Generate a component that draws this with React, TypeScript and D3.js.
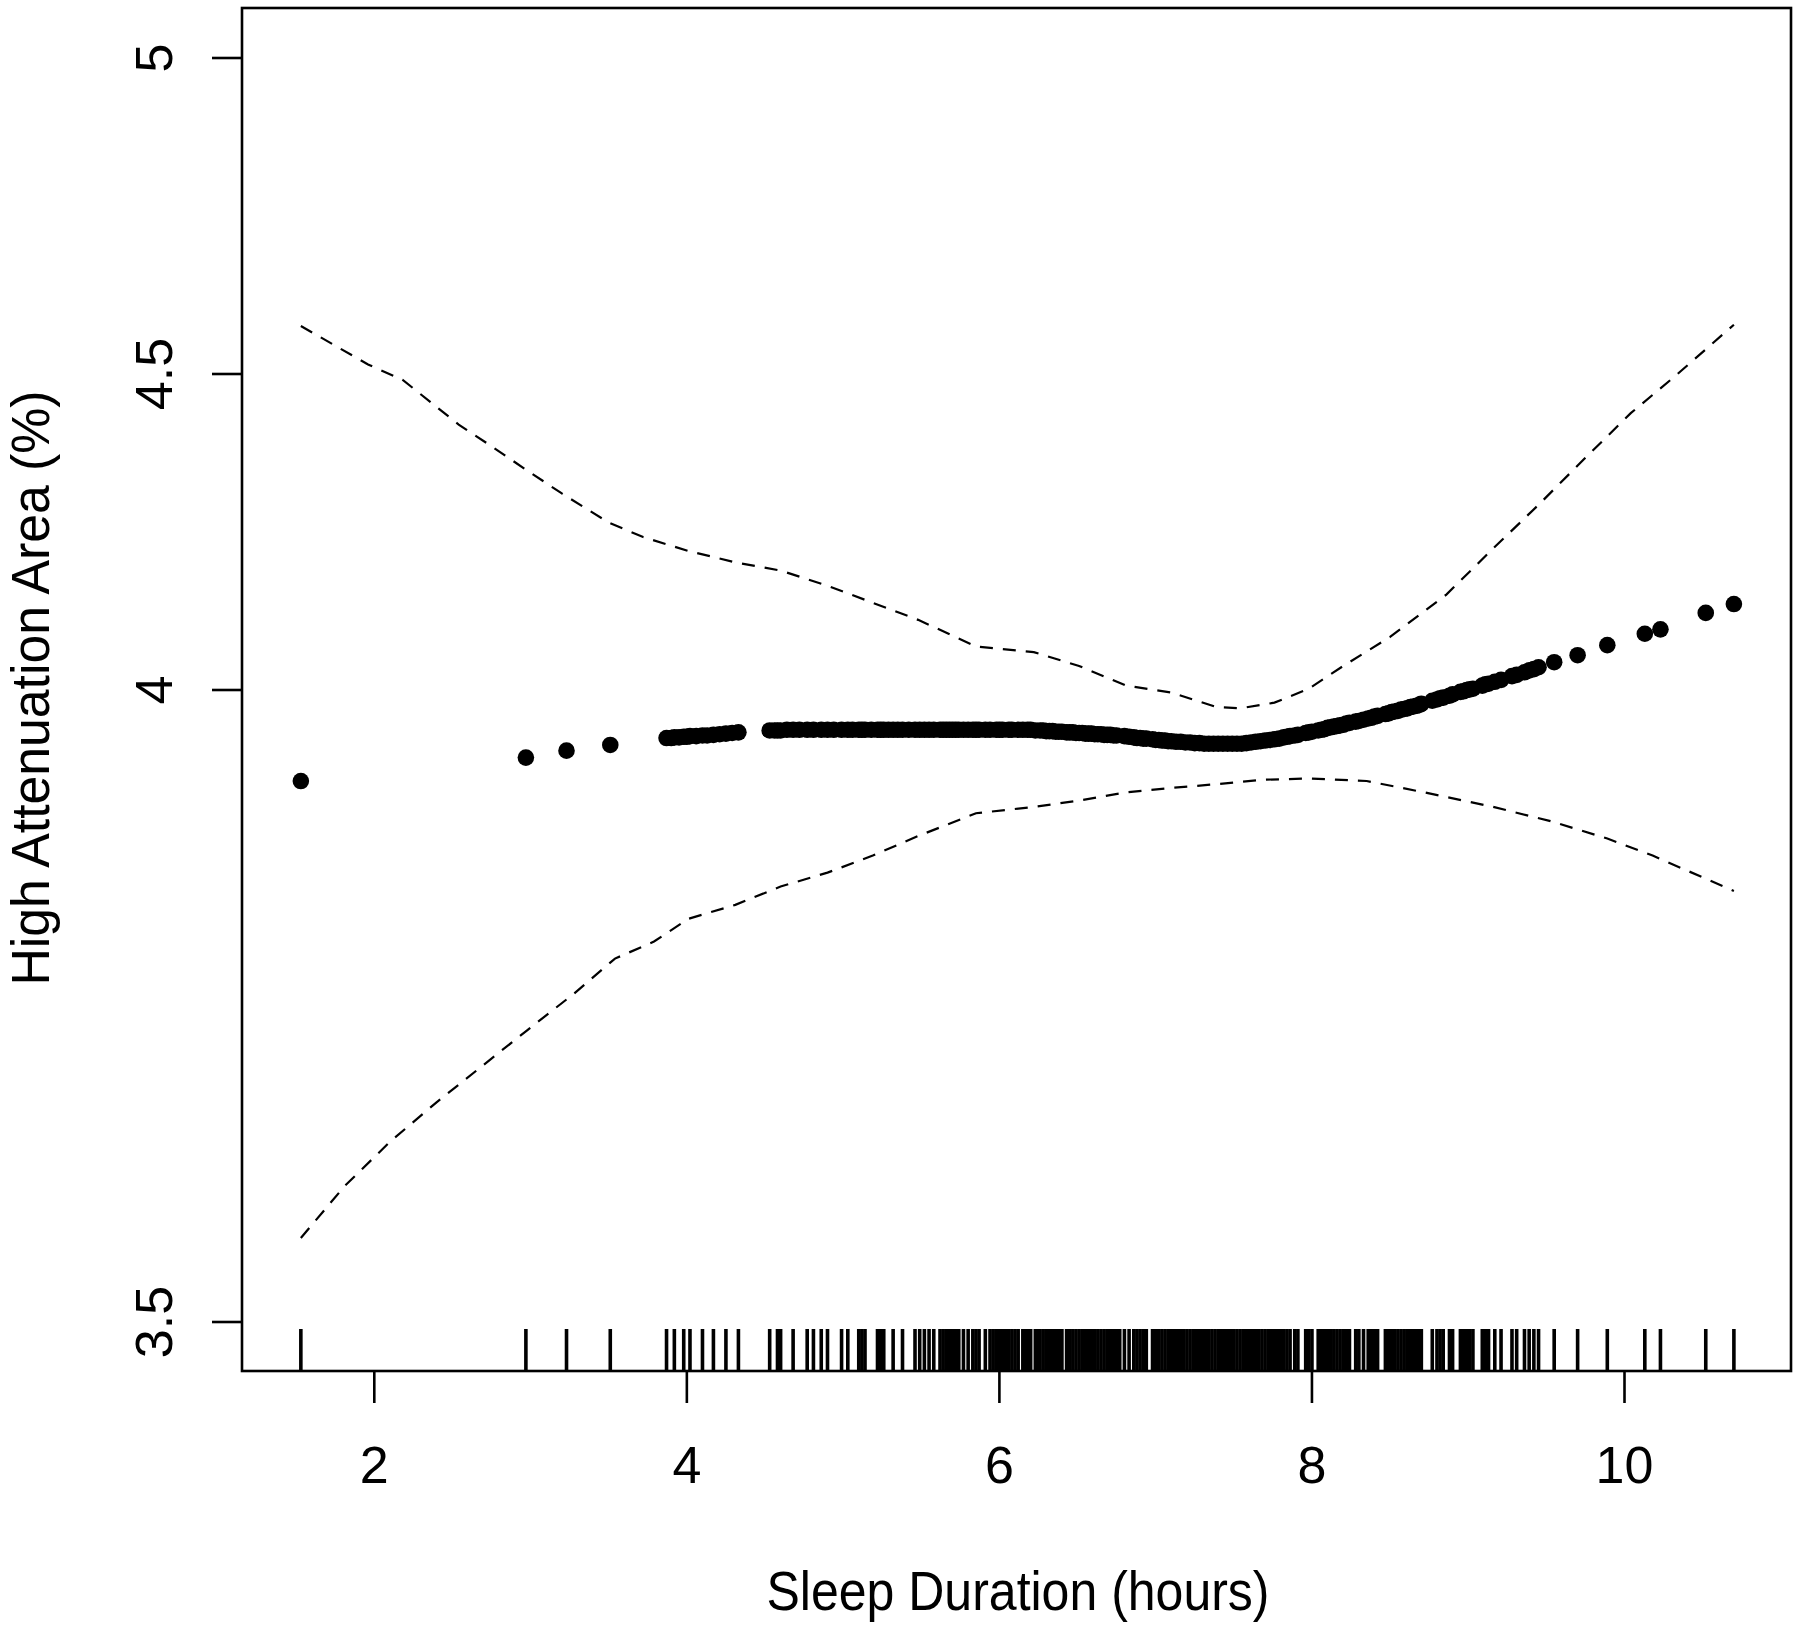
import React from 'react'
import * as d3 from 'd3'

const W = 1800
const H = 1626

// axis ticks (the bottom y tick sits at 3.0 but is printed as "3.5" in the source figure)
const xTicks = [2, 4, 6, 8, 10]
const yTicks = [3, 4, 4.5, 5]
const yTickLabels = ['3.5', '4', '4.5', '5']

// observed sleep durations (rug)
const rugHours = [
  1.53, 2.97, 3.23, 3.51,
  3.87, 3.92, 3.98, 4.02, 4.1, 4.17, 4.25, 4.33,
  4.53, 4.58, 4.6, 4.68, 4.77, 4.81, 4.86, 4.9, 4.99, 5.03,
  5.1, 5.12, 5.14, 5.22, 5.24, 5.26,
  5.32, 5.38, 5.46, 5.49, 5.52, 5.55, 5.58,
  5.62, 5.64, 5.66, 5.68, 5.7, 5.72, 5.74, 5.77, 5.8,
  5.83, 5.85, 5.87, 5.91, 5.94, 5.96, 5.98, 6.0, 6.02, 6.04,
  6.06, 6.08, 6.1, 6.12, 6.15, 6.16, 6.18, 6.2, 6.23, 6.25,
  6.26, 6.28, 6.3, 6.32, 6.34, 6.36, 6.38, 6.39, 6.4, 6.43, 6.44,
  6.45, 6.47, 6.49, 6.51, 6.53, 6.55, 6.57, 6.59, 6.61, 6.63, 6.65, 6.67,
  6.69, 6.71, 6.73, 6.75, 6.77, 6.8, 6.83,
  6.86, 6.88, 6.9, 6.92, 6.94, 6.98, 7.0, 7.02, 7.04, 7.06,
  7.08, 7.1, 7.12, 7.14, 7.16, 7.18, 7.2, 7.22, 7.24, 7.26,
  7.28, 7.3, 7.32, 7.34, 7.36, 7.38, 7.4, 7.42, 7.44, 7.46,
  7.48, 7.5, 7.52, 7.54, 7.56, 7.58, 7.6, 7.62, 7.64, 7.66,
  7.68, 7.7, 7.72, 7.74, 7.76, 7.78, 7.8, 7.82, 7.84, 7.86,
  7.89, 7.91, 7.96, 7.98, 8.0,
  8.04, 8.06, 8.08, 8.1, 8.12, 8.14, 8.16, 8.18, 8.2, 8.22, 8.24,
  8.28, 8.3, 8.33, 8.36, 8.38, 8.4, 8.42,
  8.47, 8.49, 8.51, 8.53, 8.55, 8.57, 8.59, 8.61, 8.63, 8.65, 8.67, 8.69, 8.7,
  8.77, 8.8, 8.82, 8.84, 8.88, 8.9,
  8.95, 8.97, 8.99, 9.01, 9.03, 9.09, 9.11, 9.13,
  9.17, 9.21, 9.28, 9.31, 9.36, 9.39, 9.42, 9.45,
  9.55, 9.7, 9.89, 10.13, 10.23, 10.52, 10.7
]

// fitted values at the observed durations
const fitted: [number, number][] = [
  [1.53, 3.856], [2.97, 3.893], [3.23, 3.904], [3.51, 3.913],
  [3.87, 3.924], [3.9, 3.924], [3.92, 3.925], [3.95, 3.925], [3.98, 3.926],
  [4.0, 3.926], [4.02, 3.927], [4.06, 3.927], [4.1, 3.928], [4.13, 3.928],
  [4.17, 3.929], [4.21, 3.93], [4.25, 3.931], [4.29, 3.932], [4.33, 3.933],
  [4.53, 3.936], [4.56, 3.936], [4.58, 3.936], [4.6, 3.936], [4.64, 3.937],
  [4.68, 3.937], [4.72, 3.937], [4.77, 3.937], [4.81, 3.937], [4.86, 3.937],
  [4.9, 3.937], [4.94, 3.937], [4.99, 3.937], [5.03, 3.937], [5.06, 3.937],
  [5.1, 3.937], [5.12, 3.937], [5.14, 3.937], [5.18, 3.937], [5.22, 3.937],
  [5.24, 3.937], [5.26, 3.937], [5.29, 3.937], [5.32, 3.937], [5.35, 3.937],
  [5.38, 3.937], [5.42, 3.937], [5.46, 3.937], [5.49, 3.937], [5.52, 3.937],
  [5.55, 3.937], [5.58, 3.937], [5.62, 3.937], [5.64, 3.937], [5.66, 3.937],
  [5.68, 3.937], [5.7, 3.937], [5.72, 3.937], [5.74, 3.937], [5.77, 3.937],
  [5.8, 3.937], [5.83, 3.937], [5.85, 3.937], [5.87, 3.937], [5.91, 3.937],
  [5.94, 3.937], [5.98, 3.937], [6.0, 3.937], [6.02, 3.937], [6.06, 3.937],
  [6.08, 3.937], [6.12, 3.937], [6.15, 3.937], [6.18, 3.937], [6.2, 3.937],
  [6.23, 3.936], [6.26, 3.936], [6.28, 3.936], [6.3, 3.935], [6.32, 3.935],
  [6.34, 3.935], [6.36, 3.934], [6.38, 3.934], [6.4, 3.934], [6.43, 3.933],
  [6.45, 3.933], [6.47, 3.933], [6.49, 3.932], [6.51, 3.932], [6.53, 3.932],
  [6.55, 3.931], [6.57, 3.931], [6.59, 3.931], [6.61, 3.93], [6.63, 3.93],
  [6.65, 3.93], [6.67, 3.929], [6.69, 3.929], [6.71, 3.929], [6.73, 3.928],
  [6.75, 3.928], [6.8, 3.927], [6.83, 3.926], [6.86, 3.925], [6.88, 3.924],
  [6.9, 3.924], [6.92, 3.923], [6.94, 3.923], [6.98, 3.922], [7.0, 3.921],
  [7.02, 3.921], [7.04, 3.92], [7.06, 3.92], [7.08, 3.919], [7.1, 3.919],
  [7.13, 3.918], [7.16, 3.918], [7.19, 3.917], [7.22, 3.917], [7.25, 3.916],
  [7.28, 3.916], [7.31, 3.915], [7.34, 3.915], [7.37, 3.915], [7.4, 3.915],
  [7.43, 3.915], [7.46, 3.915], [7.49, 3.915], [7.52, 3.915], [7.55, 3.915],
  [7.58, 3.916], [7.61, 3.917], [7.64, 3.918], [7.67, 3.919], [7.7, 3.92],
  [7.73, 3.921], [7.76, 3.922], [7.79, 3.923], [7.82, 3.925], [7.84, 3.926],
  [7.86, 3.927], [7.89, 3.928], [7.91, 3.929], [7.96, 3.932], [7.98, 3.933],
  [8.0, 3.934], [8.04, 3.936], [8.06, 3.937], [8.08, 3.938], [8.1, 3.94],
  [8.12, 3.941], [8.14, 3.942], [8.16, 3.943], [8.18, 3.944], [8.2, 3.945],
  [8.22, 3.947], [8.24, 3.948], [8.28, 3.95], [8.3, 3.951], [8.33, 3.953],
  [8.36, 3.955], [8.38, 3.956], [8.4, 3.958], [8.42, 3.959], [8.47, 3.962],
  [8.49, 3.963], [8.51, 3.965], [8.53, 3.966], [8.55, 3.967], [8.57, 3.969],
  [8.59, 3.97], [8.61, 3.971], [8.63, 3.973], [8.65, 3.974], [8.67, 3.975],
  [8.69, 3.977], [8.7, 3.978], [8.77, 3.983], [8.8, 3.985], [8.82, 3.987],
  [8.84, 3.988], [8.88, 3.991], [8.9, 3.993], [8.95, 3.997], [8.97, 3.998],
  [8.99, 4.0], [9.01, 4.001], [9.03, 4.002], [9.09, 4.007], [9.11, 4.009],
  [9.13, 4.01], [9.17, 4.013], [9.21, 4.016], [9.28, 4.022], [9.31, 4.024],
  [9.36, 4.028], [9.39, 4.031], [9.42, 4.033], [9.45, 4.036],
  [9.55, 4.044], [9.7, 4.055], [9.89, 4.071], [10.13, 4.089], [10.23, 4.096],
  [10.52, 4.122], [10.7, 4.136]
]

// 95% confidence band
const upperCI: [number, number][] = [
  [1.53, 4.576], [1.96, 4.515], [2.18, 4.491], [2.54, 4.42], [2.76, 4.384],
  [2.98, 4.347], [3.2, 4.311], [3.5, 4.265], [3.72, 4.242], [4.01, 4.22],
  [4.31, 4.202], [4.6, 4.189], [4.9, 4.165], [5.19, 4.138], [5.48, 4.111],
  [5.85, 4.069], [6.22, 4.06], [6.51, 4.038], [6.81, 4.007], [7.1, 3.996],
  [7.39, 3.973], [7.54, 3.971], [7.76, 3.98], [7.98, 4.002], [8.2, 4.038],
  [8.5, 4.084], [8.86, 4.151], [9.16, 4.224], [9.45, 4.293], [9.74, 4.365],
  [10.04, 4.438], [10.33, 4.498], [10.7, 4.578]
]
const lowerCI: [number, number][] = [
  [1.53, 3.133], [1.81, 3.215], [2.1, 3.285], [2.4, 3.348], [2.69, 3.405],
  [2.98, 3.462], [3.28, 3.52], [3.54, 3.575], [3.79, 3.602], [4.01, 3.638],
  [4.31, 3.66], [4.6, 3.689], [4.9, 3.711], [5.19, 3.738], [5.48, 3.769],
  [5.85, 3.805], [6.22, 3.815], [6.51, 3.825], [6.81, 3.838], [7.1, 3.845],
  [7.39, 3.851], [7.69, 3.858], [7.98, 3.86], [8.35, 3.856], [8.72, 3.838],
  [9.16, 3.815], [9.52, 3.793], [9.89, 3.765], [10.18, 3.738], [10.7, 3.682]
]

const FONT = "'Liberation Sans', Arial, Helvetica, sans-serif"

export default function App() {
  // plot frame (R-style box)
  const left = 242, right = 1791, top = 8, bottom = 1371

  const x = d3.scaleLinear().domain([2, 10]).range([374.3, 1624.5])
  const y = d3.scaleLinear().domain([3, 5]).range([1322, 58])

  const line = d3.line<[number, number]>()
    .x(d => x(d[0]))
    .y(d => y(d[1]))

  return (
    <svg
      width={W}
      height={H}
      viewBox={`0 0 ${W} ${H}`}
      style={{ position: 'absolute', left: 0, top: 0, background: '#fff' }}
      fontFamily={FONT}
    >
      <rect x={0} y={0} width={W} height={H} fill="#fff" />

      {/* confidence limits */}
      <path d={line(upperCI) || ''} fill="none" stroke="#000" strokeWidth={2.2} strokeDasharray="13 10" />
      <path d={line(lowerCI) || ''} fill="none" stroke="#000" strokeWidth={2.2} strokeDasharray="13 10" />

      {/* fitted points */}
      <g fill="#000">
        {fitted.map((d, i) => (
          <circle key={i} cx={x(d[0])} cy={y(d[1])} r={8.3} />
        ))}
      </g>

      {/* rug */}
      <g stroke="#000" strokeWidth={3.6}>
        {rugHours.map((h, i) => (
          <line key={i} x1={x(h)} x2={x(h)} y1={bottom - 42} y2={bottom} />
        ))}
      </g>

      {/* box */}
      <rect x={left} y={top} width={right - left} height={bottom - top} fill="none" stroke="#000" strokeWidth={2.6} />

      {/* x axis */}
      <g>
        {xTicks.map(t => (
          <g key={t}>
            <line x1={x(t)} x2={x(t)} y1={bottom} y2={bottom + 32} stroke="#000" strokeWidth={2.6} />
            <text x={x(t)} y={1483} textAnchor="middle" fontSize={52}>{t}</text>
          </g>
        ))}
      </g>

      {/* y axis */}
      <g>
        {yTicks.map((t, i) => (
          <g key={t}>
            <line x1={left - 30} x2={left} y1={y(t)} y2={y(t)} stroke="#000" strokeWidth={2.6} />
            <text
              transform={`translate(172,${y(t)}) rotate(-90)`}
              textAnchor="middle"
              fontSize={52}
            >
              {yTickLabels[i]}
            </text>
          </g>
        ))}
      </g>

      <text x={1018} y={1610} textAnchor="middle" fontSize={55} textLength={503} lengthAdjust="spacingAndGlyphs">
        Sleep Duration (hours)
      </text>
      <text
        transform="translate(49,688) rotate(-90)"
        textAnchor="middle"
        fontSize={54}
        textLength={595}
        lengthAdjust="spacingAndGlyphs"
      >
        High Attenuation Area (%)
      </text>
    </svg>
  )
}
